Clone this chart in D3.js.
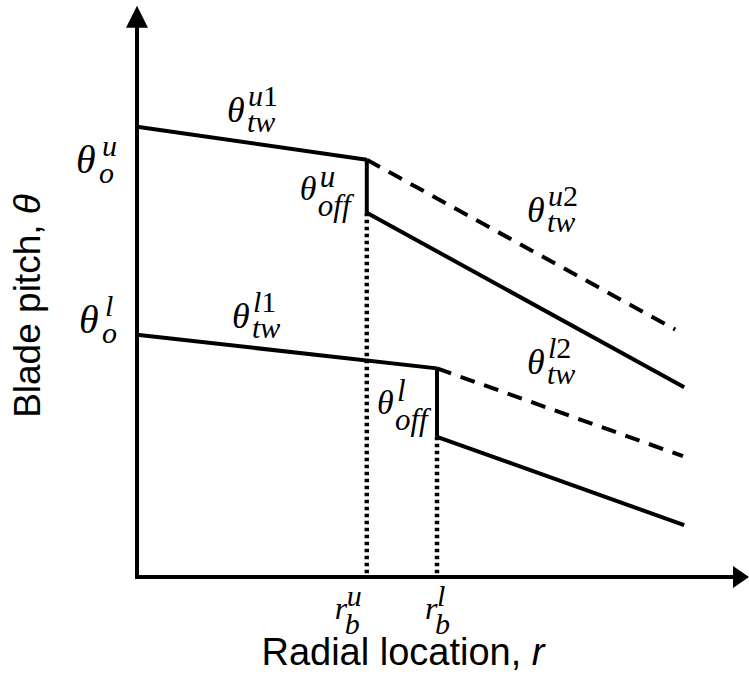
<!DOCTYPE html>
<html>
<head>
<meta charset="utf-8">
<script src="https://cdn.jsdelivr.net/npm/d3@7"></script>
<style>
  html, body { margin: 0; padding: 0; background: #fff; }
  svg { display: block; }
  .sans { font-family: "Liberation Sans", Arial, Helvetica, sans-serif; }
  .math { font-family: "Liberation Serif", "Times New Roman", serif; font-style: italic; }
</style>
</head>
<body>
<svg id="chart" width="749" height="679"></svg>
<script>
// Two pitch sections (upper and lower), each with an inboard twist,
// a step offset at the break radius and an outboard twist.
const sections      = ["u", "l"];
const rootPitch     = [7.90, 4.25];   // θ_o at r = 0
const breakRadius   = [3.83, 5.00];   // r_b
const pitchAtBreak  = [7.32, 3.66];   // end of inboard segment
const pitchAfterOff = [6.39, 2.46];   // after the θ_off step
const tipRadius     = [9.12, 9.12];
const tipPitch      = [3.33, 0.91];   // outboard segment at the tip
const dashTipRadius = [8.97, 9.10];
const dashTipPitch  = [4.34, 2.12];   // inboard line continued without the step

const svg = d3.select("#chart");

const x = d3.scaleLinear().domain([0, 10]).range([137, 737]);
const y = d3.scaleLinear().domain([0, 10]).range([577, 7]);

const line = d3.line().x(d => x(d[0])).y(d => y(d[1]));

// ---- axes with arrow heads ----
const axisG = svg.append("g");
const x0 = x(0), y0 = y(0);
const xTip = x(10.2), yTip = y(10.02);
const head = 16, half = 11;
axisG.append("path")
  .attr("d", d3.line()([[x0, y0], [xTip - head, y0]]))
  .attr("stroke", "#000").attr("stroke-width", 4).attr("fill", "none");
axisG.append("path")
  .attr("d", d3.line()([[x0, y0 + 2], [x0, yTip + head + 4]]))
  .attr("stroke", "#000").attr("stroke-width", 4).attr("fill", "none");
axisG.append("path")
  .attr("d", d3.line()([[xTip, y0], [xTip - head, y0 - half], [xTip - head, y0 + half]]) + "Z")
  .attr("fill", "#000");
axisG.append("path")
  .attr("d", d3.line()([[x0, yTip], [x0 - half, yTip + head + 6], [x0 + half, yTip + head + 6]]) + "Z")
  .attr("fill", "#000");

// ---- pitch distributions ----
const marks = svg.append("g").attr("fill", "none").attr("stroke", "#000");

sections.forEach((s, i) => {
  // dotted guide from the step down to the radial axis
  marks.append("path")
    .attr("d", line([[breakRadius[i], pitchAfterOff[i]], [breakRadius[i], 0]]))
    .attr("stroke-width", 4.5).attr("stroke-dasharray", "3.5,3.5");
  // inboard segment
  marks.append("path")
    .attr("d", line([[0, rootPitch[i]], [breakRadius[i], pitchAtBreak[i]]]))
    .attr("stroke-width", 4);
  // step offset
  marks.append("path")
    .attr("d", line([[breakRadius[i], pitchAtBreak[i]], [breakRadius[i], pitchAfterOff[i]]]))
    .attr("stroke-width", 4);
  // outboard segment after the step
  marks.append("path")
    .attr("d", line([[breakRadius[i], pitchAfterOff[i]], [tipRadius[i], tipPitch[i]]]))
    .attr("stroke-width", 4);
  // dashed continuation without the step
  marks.append("path")
    .attr("d", line([[breakRadius[i], pitchAtBreak[i]], [dashTipRadius[i], dashTipPitch[i]]]))
    .attr("stroke-width", 4).attr("stroke-dasharray", "15,10");
});

// ---- symbolic labels ----
// digits in scripts are set upright, letters italic
function scriptText(sel, str) {
  str.split(/(\d+)/).filter(p => p.length).forEach(p => {
    const t = sel.append("tspan").text(p);
    if (/^\d+$/.test(p)) t.attr("font-style", "normal");
  });
}
// one text element per symbol: base, superscript and subscript
function mathLabel(px, py, base, sup, sub, o) {
  const t = svg.append("text").attr("class", "math").attr("fill", "#000")
    .attr("x", px).attr("y", py).attr("font-size", o.baseSize);
  t.append("tspan").text(base);
  scriptText(t.append("tspan").attr("x", px + o.supDx).attr("y", py + o.supDy)
    .attr("font-size", o.scriptSize), sup);
  scriptText(t.append("tspan").attr("x", px + o.subDx).attr("y", py + o.subDy)
    .attr("font-size", o.scriptSize), sub);
}

const rootStyle  = { baseSize: 40, scriptSize: 30, supDx: 26, supDy: -17, subDx: 23, subDy: 10 };
const twistStyle = { baseSize: 36, scriptSize: 30, supDx: 21, supDy: -16, subDx: 20, subDy: 10 };
const offStyle   = { baseSize: 34, scriptSize: 31, supDx: 20, supDy: -13, subDx: 18, subDy: 16 };
const rbStyle    = { baseSize: 32, scriptSize: 30, supDx: 12, supDy: -13, subDx: 10, subDy: 15 };

// root pitch labels left of the pitch axis
mathLabel(x0 - 61, y(rootPitch[0]) + 46, "θ", "u", "o", rootStyle);
mathLabel(x0 - 58, y(rootPitch[1]) - 2, "θ", "l", "o", rootStyle);

// inboard twist labels
mathLabel(227, 122, "θ", "u1", "tw", twistStyle);
mathLabel(232, 328, "θ", "l1", "tw", twistStyle);

// outboard twist labels
mathLabel(527, 222, "θ", "u2", "tw", twistStyle);
mathLabel(527, 374, "θ", "l2", "tw", twistStyle);

// step offsets, left of each step
mathLabel(x(breakRadius[0]) - 67, 200, "θ", "u", "off", offStyle);
mathLabel(x(breakRadius[1]) - 60, 414, "θ", "l", "off", offStyle);

// break radii under the radial axis
mathLabel(x(breakRadius[0]) - 32, 619, "r", "u", "b", rbStyle);
mathLabel(x(breakRadius[1]) - 12, 619, "r", "l", "b", rbStyle);

// ---- axis titles ----
const xTitle = svg.append("text").attr("class", "sans")
  .attr("x", 403).attr("y", 665).attr("text-anchor", "middle")
  .attr("font-size", 38).attr("fill", "#000");
xTitle.append("tspan").text("Radial location, ");
xTitle.append("tspan").attr("font-style", "italic").text("r");

const yTitle = svg.append("text").attr("class", "sans")
  .attr("transform", "translate(40,306) rotate(-90)")
  .attr("text-anchor", "middle")
  .attr("font-size", 37).attr("fill", "#000");
yTitle.append("tspan").text("Blade pitch, ");
yTitle.append("tspan").attr("font-style", "italic").text("θ");
</script>
</body>
</html>
